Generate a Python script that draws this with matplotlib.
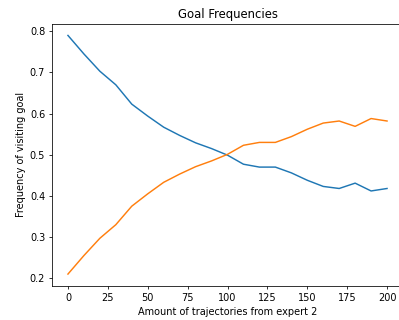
import matplotlib
matplotlib.use("Agg")
import matplotlib.pyplot as plt

trajectories = [0, 10, 20, 30, 40, 50, 60, 70, 80, 90, 100,
                110, 120, 130, 140, 150, 160, 170, 180, 190, 200]
goal_1 = [0.790, 0.745, 0.703, 0.670, 0.623, 0.594, 0.567, 0.547, 0.529, 0.515, 0.499,
          0.477, 0.470, 0.470, 0.456, 0.438, 0.423, 0.418, 0.431, 0.412, 0.418]
goal_2 = [0.210, 0.255, 0.297, 0.330, 0.375, 0.405, 0.433, 0.453, 0.471, 0.485, 0.501,
          0.523, 0.530, 0.530, 0.544, 0.562, 0.577, 0.582, 0.569, 0.588, 0.582]

dpi = 70
fig = plt.figure(figsize=(399 / dpi, 320 / dpi), dpi=dpi)
ax = fig.add_axes([52 / 399, 34 / 320, 351 / 399, 262.5 / 320])

ax.plot(trajectories, goal_1)
ax.plot(trajectories, goal_2)

ax.set_title('Goal Frequencies')
ax.set_xlabel('Amount of trajectories from expert 2')
ax.set_ylabel('Frequency of visiting goal')

fig.savefig('out.png', dpi=dpi)
